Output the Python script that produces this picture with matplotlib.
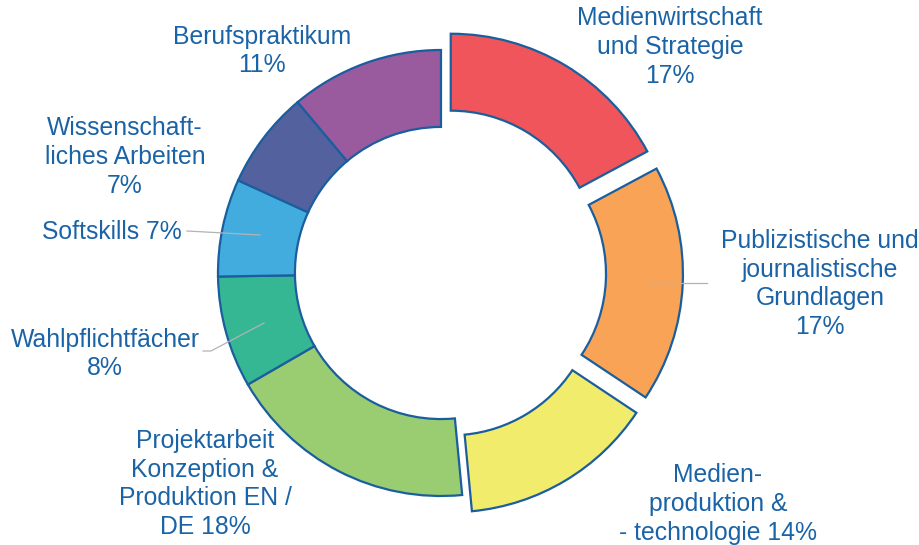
import matplotlib.pyplot as plt

plt.rcParams["font.family"] = ["Liberation Sans", "DejaVu Sans"]

categories = [
    "Medienwirtschaft\nund Strategie",
    "Publizistische und\njournalistische\nGrundlagen",
    "Medien-\nproduktion &\n\u2010 technologie",
    "Projektarbeit\nKonzeption &\nProduktion EN /\nDE",
    "Wahlpflichtfächer",
    "Softskills",
    "Wissenschaft-\nliches Arbeiten",
    "Berufspraktikum",
]
shares = [17, 17, 14, 18, 8, 7, 7, 11]
colors = ["#EF555A", "#F9A357", "#F2EC6C", "#9ACD72", "#35B794",
          "#42ACDE", "#53629E", "#9A5A9E"]
explode = [0.085, 0.085, 0.085, 0, 0, 0, 0, 0]

# label layout in pixel coordinates (block centre) and separator before the value
label_pos = [(670, 47), (820, 284), (718, 504), (205, 484),
             (105, 354), (112, 232), (125, 157), (262, 51)]
label_sep = ["\n", "\n", " ", " ", "\n", " ", "\n", "\n"]

CX, CY, R = 441, 273, 223
W, H = 920, 545
TEXT = "#1A63A6"


def px(x, y):
    return (x - CX) / R, (CY - y) / R


fig = plt.figure(figsize=(W / 100, H / 100), dpi=100)
ax = fig.add_axes([0, 0, 1, 1])
ax.pie(shares, colors=colors, explode=explode, startangle=90,
       counterclock=False, radius=1,
       wedgeprops=dict(width=0.345, edgecolor="#1A5E9E", linewidth=1.6))
ax.set_xlim(px(0, 0)[0], px(W, 0)[0])
ax.set_ylim(px(0, H)[1], px(0, 0)[1])
ax.set_aspect("auto")
ax.axis("off")

for name, val, (x, y), sep in zip(categories, shares, label_pos, label_sep):
    tx, ty = px(x, y)
    ax.text(tx, ty, f"{name}{sep}{val}%", ha="center", va="center",
            color=TEXT, fontsize=17.8, linespacing=1.25)

# leader lines
leaders = [
    [(645, 283), (707, 283)],
    [(264, 323), (211, 351), (203, 351)],
    [(187, 231), (260, 235)],
]
for pts in leaders:
    xs, ys = zip(*[px(a, b) for a, b in pts])
    ax.plot(xs, ys, color="#B3B3B3", linewidth=0.9)

fig.savefig("out.png", dpi=100)
